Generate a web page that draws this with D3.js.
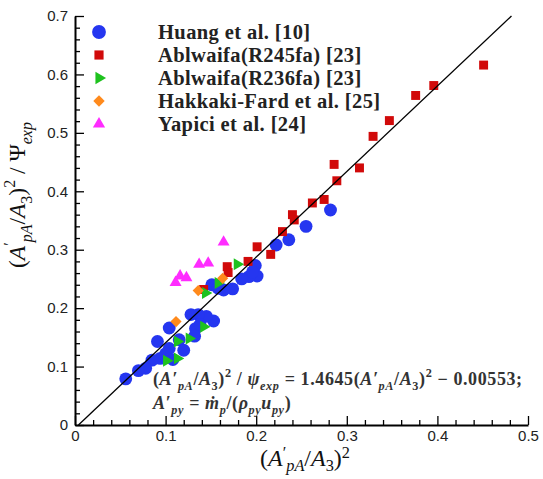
<!DOCTYPE html>
<html><head><meta charset="utf-8">
<script src="https://cdn.jsdelivr.net/npm/d3@7"></script>
<style>body{margin:0;background:#fff}svg{display:block}</style>
</head><body>
<svg id="c" width="543" height="479"></svg>
<script>
// ---- data ----
const xTicks = [0, 0.1, 0.2, 0.3, 0.4, 0.5];
const yTicks = [0, 0.1, 0.2, 0.3, 0.4, 0.5, 0.6, 0.7];
const fitSlope = 1.4645, fitIntercept = -0.00553;

const huangX = [0.282,0.255,0.236,0.222,0.199,0.201,0.192,0.184,0.196,0.174,0.164,0.151,0.158,0.153,0.145,0.136,0.128,0.133,0.138,0.104,0.091,0.115,0.120,0.104,0.100,0.094,0.085,0.108,0.078,0.070,0.056,0.132];
const huangY = [0.368,0.340,0.317,0.308,0.273,0.255,0.254,0.250,0.262,0.233,0.231,0.240,0.234,0.178,0.186,0.189,0.189,0.165,0.172,0.166,0.143,0.146,0.128,0.131,0.122,0.114,0.111,0.112,0.097,0.093,0.079,0.152];

const r245X = [0.451,0.396,0.376,0.347,0.329,0.286,0.314,0.289,0.275,0.262,0.240,0.242,0.229,0.201,0.216,0.191,0.168,0.169,0.142];
const r245Y = [0.616,0.581,0.564,0.521,0.494,0.446,0.440,0.418,0.386,0.380,0.360,0.351,0.331,0.305,0.292,0.280,0.271,0.261,0.232];

const r236X = [0.179,0.158,0.144,0.142,0.126,0.113,0.113,0.101];
const r236Y = [0.275,0.243,0.226,0.168,0.148,0.143,0.114,0.110];

const hakkakiX = [0.1115,0.136,0.163];
const hakkakiY = [0.177,0.230,0.251];

const yapiciX = [0.164,0.147,0.137,0.116,0.123,0.111];
const yapiciY = [0.313,0.277,0.275,0.255,0.252,0.244];

const seriesNames = ["Huang et al. [10]","Ablwaifa(R245fa) [23]","Ablwaifa(R236fa) [23]","Hakkaki-Fard et al. [25]","Yapici et al. [24]"];
const seriesColors = ["#2536f0","#d10a0a","#1ec21e","#ff8a1c","#ff2cff"];

// ---- chart ----
const svg = d3.select("#c");
const x = d3.scaleLinear().domain([0,0.5]).range([75,528]);
const y = d3.scaleLinear().domain([0,0.7]).range([425,16]);

const sym = [
  {type:d3.symbolCircle, size:130, rot:0},
  {type:d3.symbolSquare, size:80, rot:0},
  {type:d3.symbolTriangle, size:62, rot:90},
  {type:d3.symbolSquare, size:62, rot:45},
  {type:d3.symbolTriangle, size:62, rot:0}
];
const seriesData = [
  d3.zip(huangX,huangY), d3.zip(r245X,r245Y), d3.zip(r236X,r236Y),
  d3.zip(hakkakiX,hakkakiY), d3.zip(yapiciX,yapiciY)
];

seriesData.forEach((pts,i)=>{
  const p = d3.symbol().type(sym[i].type).size(sym[i].size)();
  svg.append("g").selectAll("path").data(pts).join("path")
    .attr("d",p)
    .attr("transform",d=>`translate(${x(d[0])},${y(d[1])}) rotate(${sym[i].rot})`)
    .attr("fill",seriesColors[i]);
});

// fit line
const xa = (0 - fitIntercept)/fitSlope, xb = (0.7 - fitIntercept)/fitSlope;
svg.append("line")
  .attr("x1",x(xa)).attr("y1",y(fitSlope*xa+fitIntercept))
  .attr("x2",x(xb)).attr("y2",y(fitSlope*xb+fitIntercept))
  .attr("stroke","#000").attr("stroke-width",1.3);

// axes
const fmt = d=> d===0 ? "0" : d.toFixed(1);
const minorX = d3.range(0,0.5001,0.02).filter(v=>Math.abs(v*10-Math.round(v*10))>1e-6);
const minorY = d3.range(0,0.7001,0.02).filter(v=>Math.abs(v*10-Math.round(v*10))>1e-6);

const gx = svg.append("g").attr("transform","translate(0,425)")
  .call(d3.axisBottom(x).tickValues(xTicks).tickFormat(fmt).tickSizeInner(-9).tickSizeOuter(0).tickPadding(5));
const gxm = svg.append("g").attr("transform","translate(0,425)")
  .call(d3.axisBottom(x).tickValues(minorX).tickFormat("").tickSizeInner(-5).tickSizeOuter(0));
gxm.select(".domain").remove();
const gy = svg.append("g").attr("transform","translate(75,0)")
  .call(d3.axisLeft(y).tickValues(yTicks).tickFormat(fmt).tickSizeInner(-9).tickSizeOuter(0).tickPadding(7));
const gym = svg.append("g").attr("transform","translate(75,0)")
  .call(d3.axisLeft(y).tickValues(minorY).tickFormat("").tickSizeInner(-5).tickSizeOuter(0));
gym.select(".domain").remove();
svg.selectAll(".domain").attr("stroke","#000").attr("stroke-width",2);
svg.selectAll(".tick line").attr("stroke","#000").attr("stroke-width",1.3);
svg.selectAll(".tick text").attr("font-family","Liberation Sans, Arial, sans-serif").attr("font-size",15).attr("fill","#222");

// rich text helper
function rich(parent, segs, base, supK, subK){
  let cur = 0;
  const sk = supK || 0.42, bk = subK || 0.3;
  segs.forEach(s=>{
    const sh = s.s==="sub" ? base*bk : s.s==="sup" ? -base*sk : 0;
    const ts = parent.append("tspan").text(s.t)
      .attr("font-style", s.i ? "italic" : "normal")
      .attr("font-size", s.s ? base*0.68 : (s.fs||base))
      .attr("dy", sh-cur);
    if (s.dx) ts.attr("dx", s.dx);
    cur = sh;
  });
}

// legend
const lg = svg.append("g");
seriesNames.forEach((n,i)=>{
  const cy = 32 + i*23;
  const p = d3.symbol().type(sym[i].type).size(i===0?150:sym[i].size*1.05)();
  lg.append("path").attr("d",p).attr("transform",`translate(99,${cy}) rotate(${sym[i].rot})`).attr("fill",seriesColors[i]);
  lg.append("text").attr("x",158).attr("y",cy+7).text(n)
    .attr("font-family","Liberation Serif, Times New Roman, serif").attr("font-weight","bold")
    .attr("font-size",20.5).attr("letter-spacing",0.4).attr("fill","#222");
});

// axis titles
const serif = "Liberation Serif, Times New Roman, serif";
const xt = svg.append("text").attr("x",305).attr("y",466).attr("text-anchor","middle")
  .attr("font-family",serif).attr("font-size",24).attr("fill","#111");
rich(xt,[{t:"("},{t:"A",i:true},{t:"′",s:"sup"},{t:"pA",s:"sub",i:true},{t:"/"},{t:"A",i:true},{t:"3",s:"sub"},{t:")"},{t:"2",s:"sup"}],24,0.33,0.22);

const yt = svg.append("text").attr("transform","translate(25,195) rotate(-90)").attr("text-anchor","middle")
  .attr("font-family",serif).attr("font-size",23.5).attr("fill","#111");
rich(yt,[{t:"("},{t:"A",i:true},{t:"′",s:"sup"},{t:"pA",s:"sub",i:true},{t:"/"},{t:"A",i:true},{t:"3",s:"sub"},{t:")"},{t:"2",s:"sup"},{t:" / Ψ"},{t:"exp",s:"sub",i:true}],23.5);

// equation annotation
const eq1 = svg.append("text").attr("x",153).attr("y",385)
  .attr("font-family",serif).attr("font-weight","bold").attr("font-size",18).attr("letter-spacing",0.6).attr("fill","#333");
rich(eq1,[{t:"("},{t:"A′",i:true},{t:"pA",s:"sub",i:true},{t:"/"},{t:"A",i:true},{t:"3",s:"sub"},{t:")"},{t:"2",s:"sup"},
  {t:" / "},{t:"ψ",i:true},{t:"exp",s:"sub",i:true},{t:" = 1.4645("},{t:"A′",i:true},{t:"pA",s:"sub",i:true},{t:"/"},{t:"A",i:true},{t:"3",s:"sub"},{t:")"},{t:"2",s:"sup"},{t:" − 0.00553;"}],18);
const eq2 = svg.append("text").attr("x",153).attr("y",409)
  .attr("font-family",serif).attr("font-weight","bold").attr("font-size",18).attr("letter-spacing",0.6).attr("fill","#333");
rich(eq2,[{t:"A′",i:true},{t:"py",s:"sub",i:true},{t:" = "},{t:"ṁ",i:true},{t:"p",s:"sub",i:true},{t:"/("},{t:"ρ",i:true},{t:"py",s:"sub",i:true},{t:"u",i:true},{t:"py",s:"sub",i:true},{t:")"}],18);
</script>
</body></html>
